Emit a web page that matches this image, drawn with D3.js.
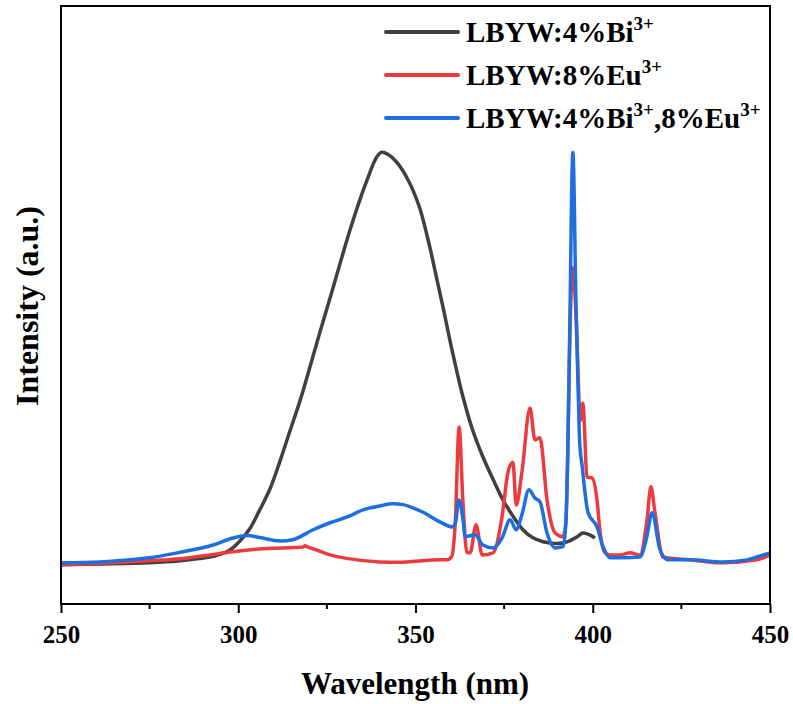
<!DOCTYPE html>
<html>
<head>
<meta charset="utf-8">
<script src="https://cdn.jsdelivr.net/npm/d3@7"></script>
<style>
  body { margin: 0; background: #fff; }
</style>
</head>
<body>
<div id="chart"></div>
<script>
const width = 793;
const height = 704;
const serif = "'Liberation Serif', 'Times New Roman', serif";

// wavelength (nm) / normalized intensity
const biWave = [250, 262, 275, 283, 289, 294, 297.7, 300.5, 303.3, 306, 309, 311.8, 314.6, 317.5, 320.2, 323, 325.9, 328.7, 331.5, 334.3, 337, 338.8, 340.3, 342.3, 344.8, 347.8, 351, 353.5, 356.1, 358, 359.7, 361.5, 363.4, 366, 369, 372, 374.7, 377.5, 380.3, 383, 386, 389, 391.6, 393.5, 395.6, 397.2, 399, 400.6];
const biInt = [0, 0.002, 0.005, 0.009, 0.015, 0.023, 0.036, 0.058, 0.088, 0.132, 0.185, 0.252, 0.325, 0.40, 0.479, 0.563, 0.647, 0.73, 0.811, 0.885, 0.948, 0.985, 1.0, 0.995, 0.975, 0.935, 0.87, 0.79, 0.69, 0.615, 0.545, 0.475, 0.407, 0.33, 0.262, 0.205, 0.157, 0.118, 0.085, 0.066, 0.056, 0.052, 0.053, 0.058, 0.068, 0.077, 0.073, 0.065];

const euWave = [250, 262, 275, 283.6, 292, 297.7, 307, 316, 318.3, 318.8, 319.4, 322, 325.9, 331, 340, 345, 356.9, 358.9, 360.2, 361.2, 362.3, 363.4, 364.5, 365.4, 367.1, 368.8, 371.9, 374.4, 376.1, 377.5, 378.4, 380, 382.3, 383.7, 385.1, 387.1, 389.4, 391.6, 392.4, 392.9, 393.4, 394.4, 395.3, 396.5, 397.2, 398.4, 399.8, 401.2, 402, 403.5, 404.9, 407.7, 410.5, 413.3, 415.3, 416.4, 417.5, 419.8, 427.4, 436.7, 446.3, 450];
const euInt = [0, 0.004, 0.01, 0.015, 0.024, 0.031, 0.039, 0.042, 0.043, 0.046, 0.044, 0.036, 0.024, 0.015, 0.007, 0.006, 0.012, 0.012, 0.02, 0.1, 0.334, 0.15, 0.03, 0.029, 0.097, 0.024, 0.029, 0.116, 0.225, 0.249, 0.145, 0.223, 0.38, 0.303, 0.308, 0.157, 0.077, 0.068, 0.1, 0.25, 0.5, 0.72, 0.6, 0.35, 0.392, 0.213, 0.211, 0.157, 0.085, 0.029, 0.024, 0.024, 0.029, 0.024, 0.109, 0.189, 0.13, 0.019, 0.012, 0.005, 0.012, 0.024];

const biEuWave = [250, 261, 268.6, 275, 282.7, 292.9, 298.5, 302.5, 306.1, 311.8, 315.4, 321.1, 325.9, 330.7, 335.2, 340, 343.7, 346.5, 349.3, 352, 356.9, 360.3, 361.2, 362.3, 363.4, 364, 366.8, 369, 371.9, 374.4, 376.7, 378.4, 380, 382, 383.7, 385.1, 387.1, 389.4, 391.6, 392.4, 392.9, 393.4, 394.4, 395.3, 395.9, 396.3, 397, 398.7, 401.2, 402.9, 404.9, 408.5, 413.3, 415.3, 416.7, 419, 421.2, 427.4, 436.7, 443.5, 446.3, 450];
const biEuInt = [0.005, 0.007, 0.012, 0.017, 0.029, 0.048, 0.065, 0.071, 0.066, 0.058, 0.061, 0.085, 0.102, 0.116, 0.133, 0.143, 0.148, 0.146, 0.138, 0.128, 0.104, 0.092, 0.1, 0.157, 0.11, 0.068, 0.073, 0.048, 0.041, 0.065, 0.109, 0.085, 0.121, 0.182, 0.162, 0.153, 0.077, 0.041, 0.044, 0.1, 0.25, 0.5, 1.0, 0.62, 0.42, 0.3, 0.24, 0.126, 0.092, 0.044, 0.017, 0.017, 0.019, 0.07, 0.126, 0.036, 0.012, 0.012, 0.007, 0.012, 0.019, 0.029];

const xTicks = [250, 300, 350, 400, 450];
const xMinorTicks = [275, 325, 375, 425];

const series = [
  { name: "LBYW:4%Bi", sup: "3+", rest: "", wave: biWave, vals: biInt, color: "#404040", curve: d3.curveCatmullRom.alpha(0.5) },
  { name: "LBYW:8%Eu", sup: "3+", rest: "", wave: euWave, vals: euInt, color: "#ec3b3f", curve: d3.curveMonotoneX },
  { name: "LBYW:4%Bi", sup: "3+", rest: ",8%Eu", sup2: "3+", wave: biEuWave, vals: biEuInt, color: "#1e6ee0", curve: d3.curveMonotoneX }
];

const plotLeft = 61, plotRight = 770, plotTop = 6, plotBottom = 604;

const svg = d3.select("#chart").append("svg")
  .attr("width", width)
  .attr("height", height);

const x = d3.scaleLinear().domain([250, 450]).range([plotLeft, plotRight]);
const y = d3.scaleLinear().domain([-0.095, 1.355]).range([plotBottom, plotTop]);

const plot = svg.append("g");
series.forEach((s) => {
  const line = d3.line()
    .x((d) => x(d[0]))
    .y((d) => y(d[1]))
    .curve(s.curve);
  plot.append("path")
    .datum(s.wave.map((w, i) => [w, s.vals[i]]))
    .attr("fill", "none")
    .attr("stroke", s.color)
    .attr("stroke-width", 3.5)
    .attr("stroke-linejoin", "round")
    .attr("d", line);
});

// frame
svg.append("rect")
  .attr("x", plotLeft).attr("y", plotTop)
  .attr("width", plotRight - plotLeft).attr("height", plotBottom - plotTop)
  .attr("fill", "none").attr("stroke", "#000").attr("stroke-width", 2);

// bottom axis
const axisX = d3.axisBottom(x).tickValues(xTicks).tickSize(9).tickPadding(12).tickFormat(d3.format("d"));
const gx = svg.append("g")
  .attr("transform", "translate(0," + plotBottom + ")")
  .call(axisX);
gx.select(".domain").remove();
gx.selectAll(".tick line").attr("stroke", "#000").attr("stroke-width", 2);
gx.selectAll(".tick text")
  .style("font-family", serif)
  .style("font-weight", "bold")
  .style("font-size", "25px")
  .attr("fill", "#000");

const minor = svg.append("g").attr("transform", "translate(0," + plotBottom + ")");
minor.selectAll("line").data(xMinorTicks).enter().append("line")
  .attr("x1", (d) => x(d)).attr("x2", (d) => x(d))
  .attr("y1", 0).attr("y2", 5)
  .attr("stroke", "#000").attr("stroke-width", 2);

// axis titles
svg.append("text")
  .attr("x", 415).attr("y", 694)
  .attr("text-anchor", "middle")
  .style("font-family", serif).style("font-weight", "bold").style("font-size", "31px")
  .text("Wavelength (nm)");

svg.append("text")
  .attr("transform", "translate(38,306) rotate(-90)")
  .attr("text-anchor", "middle")
  .style("font-family", serif).style("font-weight", "bold").style("font-size", "32px")
  .text("Intensity (a.u.)");

// legend
const legend = svg.append("g");
series.forEach((s, i) => {
  const ly = 32 + i * 43;
  legend.append("line")
    .attr("x1", 386).attr("x2", 458)
    .attr("y1", ly).attr("y2", ly)
    .attr("stroke", s.color).attr("stroke-width", 4).attr("stroke-linecap", "round");
  const t = legend.append("text")
    .attr("x", 466).attr("y", ly + 10)
    .style("font-family", serif).style("font-weight", "bold").style("font-size", "29px");
  t.append("tspan").text(s.name);
  t.append("tspan").style("font-size", "19px").attr("dy", -12).text(s.sup);
  if (s.rest) {
    t.append("tspan").attr("dy", 12).text(s.rest);
    t.append("tspan").style("font-size", "19px").attr("dy", -12).text(s.sup2);
  }
});
</script>
</body>
</html>
